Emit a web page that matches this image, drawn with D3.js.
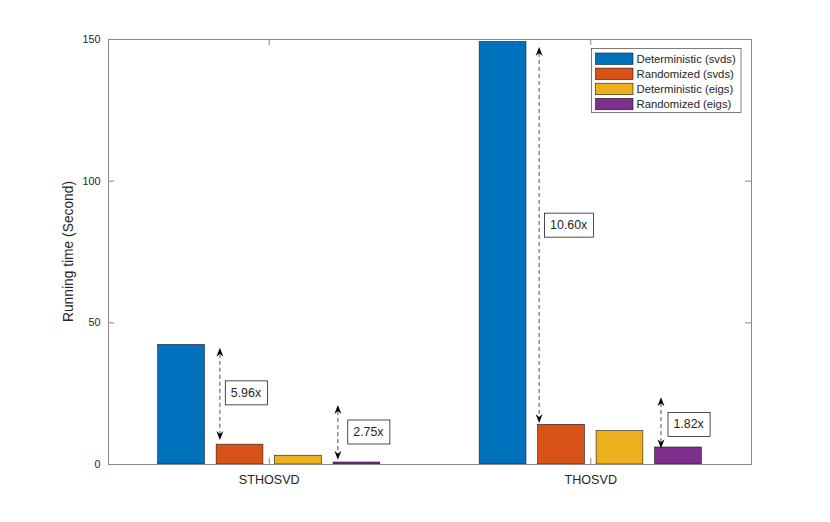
<!DOCTYPE html>
<html>
<head>
<meta charset="utf-8">
<script src="https://cdn.jsdelivr.net/npm/d3@7"></script>
<style>
  body { margin: 0; background: #fff; }
  text { font-family: "Liberation Sans", Arial, sans-serif; fill: #262626; }
</style>
</head>
<body>
<svg id="chart" width="830" height="522"></svg>
<script>
"use strict";

// categories and series
const categories = ['STHOSVD', 'THOSVD'];
const seriesNames = ['Deterministic (svds)', 'Randomized (svds)', 'Deterministic (eigs)', 'Randomized (eigs)'];
const seriesColors = ['#0072BD', '#D95319', '#EDB120', '#7E2F8E'];
const detSvds = [42.2, 149.1];
const randSvds = [7.0, 14.0];
const detEigs = [3.1, 11.8];
const randEigs = [0.7, 6.0];
const yTicks = [0, 50, 100, 150];

// speed-up annotations (data units)
const speedLabels = ['5.96x', '2.75x', '10.60x', '1.82x'];
const arrowX = [0.848, 1.215, 1.841, 2.220];
const arrowTop = [41.0, 20.8, 147.2, 23.6];
const arrowBottom = [8.5, 1.5, 14.5, 5.6];
const labelX = [0.929, 1.310, 1.933, 2.306];
const labelY = [25.1, 11.3, 84.3, 14.0];

const allSeries = [detSvds, randSvds, detEigs, randEigs];

const svg = d3.select('#chart');
const plotLeft = 108, plotRight = 751, plotTop = 39, plotBottom = 464;

const x = d3.scaleLinear().domain([0.5, 2.5]).range([plotLeft, plotRight]);
const y = d3.scaleLinear().domain([0, 150]).range([plotBottom, plotTop]);

// MATLAB grouped bar geometry
const groupWidth = Math.min(0.8, 4 / 5.5);
const step = groupWidth / 4;
const barW = step * 0.8;

const bars = [];
allSeries.forEach((vals, s) => {
    vals.forEach((v, c) => {
        bars.push({ s: s, c: c, v: v, pos: c + 1 + (s - 1.5) * step });
    });
});

svg.append('g')
    .selectAll('rect')
    .data(bars)
    .enter().append('rect')
    .attr('x', d => x(d.pos - barW / 2))
    .attr('width', d => x(d.pos + barW / 2) - x(d.pos - barW / 2))
    .attr('y', d => y(d.v))
    .attr('height', d => y(0) - y(d.v))
    .attr('fill', d => seriesColors[d.s])
    .attr('stroke', '#1a1a1a')
    .attr('stroke-width', 0.6);

// axes box with inward ticks
const axisColor = '#8a8a8a';
const tickLen = 6;

const yAxisL = d3.axisLeft(y).tickValues(yTicks).tickSizeInner(-tickLen).tickSizeOuter(0).tickPadding(7.5);
const yAxisR = d3.axisRight(y).tickValues(yTicks).tickSizeInner(-tickLen).tickSizeOuter(0).tickFormat('');
const xAxisB = d3.axisBottom(x).tickValues([1, 2]).tickSizeInner(-tickLen).tickSizeOuter(0)
    .tickPadding(11).tickFormat(d => categories[d - 1]);
const xAxisT = d3.axisTop(x).tickValues([1, 2]).tickSizeInner(-tickLen).tickSizeOuter(0).tickFormat('');

function styleAxis(g, size) {
    g.select('.domain').attr('stroke', axisColor);
    g.selectAll('.tick line').attr('stroke', axisColor);
    g.selectAll('.tick text')
        .attr('fill', '#262626')
        .style('font-family', '"Liberation Sans", Arial, sans-serif')
        .style('font-size', size + 'px');
}

svg.append('g').attr('transform', `translate(${plotLeft},0)`).call(yAxisL).call(styleAxis, 10.8);
svg.append('g').attr('transform', `translate(${plotRight},0)`).call(yAxisR).call(styleAxis, 10.8);
svg.append('g').attr('transform', `translate(0,${plotBottom})`).call(xAxisB).call(styleAxis, 12.6);
svg.append('g').attr('transform', `translate(0,${plotTop})`).call(xAxisT).call(styleAxis, 10.8);

svg.append('text')
    .attr('transform', `translate(72.5,${(plotTop + plotBottom) / 2}) rotate(-90)`)
    .attr('text-anchor', 'middle')
    .style('font-size', '13.8px')
    .text('Running time (Second)');

// double arrows
function arrowHead(px, py, dir) {
    // dir: -1 points up, 1 points down
    const len = 9, hw = 3.5, notch = 6;
    return `M${px},${py} L${px + hw},${py - dir * len} L${px},${py - dir * notch} L${px - hw},${py - dir * len} Z`;
}

const ann = svg.append('g');
arrowX.forEach((ax, i) => {
    const px = x(ax);
    const yt = y(arrowTop[i]);
    const yb = y(arrowBottom[i]);
    ann.append('line')
        .attr('x1', px).attr('x2', px)
        .attr('y1', yt + 6).attr('y2', yb - 6)
        .attr('stroke', '#222')
        .attr('stroke-width', 0.8)
        .attr('stroke-dasharray', '4,3');
    ann.append('path').attr('d', arrowHead(px, yt, -1)).attr('fill', '#000');
    ann.append('path').attr('d', arrowHead(px, yb, 1)).attr('fill', '#000');

    const lg = ann.append('g');
    const t = lg.append('text')
        .attr('x', x(labelX[i]))
        .attr('y', y(labelY[i]))
        .attr('text-anchor', 'middle')
        .attr('dominant-baseline', 'central')
        .style('font-size', '12.4px')
        .attr('fill', '#000')
        .text(speedLabels[i]);
    const bb = t.node().getBBox();
    lg.insert('rect', 'text')
        .attr('x', bb.x - 5.5)
        .attr('y', y(labelY[i]) - 12)
        .attr('width', bb.width + 11)
        .attr('height', 24)
        .attr('fill', '#fff')
        .attr('stroke', '#000')
        .attr('stroke-width', 0.7);
});

// legend
const legend = svg.append('g').attr('transform', 'translate(591.5,48.5)');
legend.append('rect')
    .attr('width', 149.5)
    .attr('height', 64)
    .attr('fill', '#fff')
    .attr('stroke', '#262626')
    .attr('stroke-width', 0.6);

const rows = legend.selectAll('g.row')
    .data(seriesNames)
    .enter().append('g')
    .attr('class', 'row')
    .attr('transform', (d, i) => `translate(0,${10.5 + i * 15.1})`);

rows.append('rect')
    .attr('x', 4)
    .attr('y', -6)
    .attr('width', 37.5)
    .attr('height', 11.5)
    .attr('fill', (d, i) => seriesColors[i])
    .attr('stroke', '#1a1a1a')
    .attr('stroke-width', 0.6);

rows.append('text')
    .attr('x', 45)
    .attr('y', 0)
    .attr('dominant-baseline', 'central')
    .style('font-size', '11.3px')
    .attr('fill', '#111')
    .text(d => d);
</script>
</body>
</html>
